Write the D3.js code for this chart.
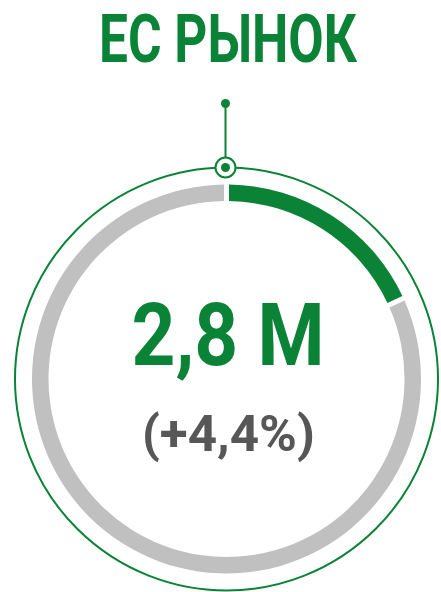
<!DOCTYPE html>
<html>
<head>
<meta charset="utf-8">
<script src="https://cdn.jsdelivr.net/npm/d3@7"></script>
<style>
  html, body { margin: 0; padding: 0; background: #fff; }
  svg { display: block; }
</style>
</head>
<body>
<svg id="chart"></svg>
<script>
// chart data
const title = "ЕС РЫНОК";
const segments = ["share", "rest"];
const shareValues = [0.18, 0.82];
const valueLabel = "2,8 M";
const changeLabel = "(+4,4%)";

const width = 441, height = 592;
const cx = 226.5, cy = 379;
const green = "#0a8336", grey = "#c0c0c0", textGrey = "#575757";

const svg = d3.select("#chart")
    .attr("width", width)
    .attr("height", height);

// squeeze a text element horizontally to a given width (condensed look)
function fitWidth(sel, targetWidth, x) {
    let w = sel.node().getComputedTextLength();
    let k = targetWidth / w;
    sel.attr("transform", `translate(${x},0) scale(${k},1) translate(${-x},0)`);
}

// title
let titleText = svg.append("text")
    .attr("x", 228)
    .attr("y", 62.5)
    .attr("text-anchor", "middle")
    .attr("font-family", "Roboto")
    .attr("font-weight", 700)
    .attr("font-size", 67)
    .attr("fill", green)
    .text(title);
fitWidth(titleText, 258, 228);

const g = svg.append("g")
    .attr("transform", `translate(${cx},${cy})`);

// thin outer circle
g.append("circle")
    .attr("r", 211.5)
    .attr("fill", "none")
    .attr("stroke", green)
    .attr("stroke-width", 2);

// ring segments
const pie = d3.pie().sort(null).padAngle(0.019);
const arc = d3.arc().innerRadius(178).outerRadius(194.5);

g.selectAll("path.seg")
    .data(pie(shareValues))
    .join("path")
    .attr("class", "seg")
    .attr("d", arc)
    .attr("fill", (d, i) => segments[i] === "share" ? green : grey);

// marker pin at the start of the ring
const pinY = -211.5;
g.append("line")
    .attr("x1", -1).attr("x2", -1)
    .attr("y1", pinY - 64).attr("y2", pinY)
    .attr("stroke", green)
    .attr("stroke-width", 2);
g.append("circle")
    .attr("cx", -1).attr("cy", pinY - 64)
    .attr("r", 4.5)
    .attr("fill", green);
g.append("circle")
    .attr("cx", -1).attr("cy", pinY)
    .attr("r", 10)
    .attr("fill", "#fff")
    .attr("stroke", green)
    .attr("stroke-width", 2);
g.append("circle")
    .attr("cx", -1).attr("cy", pinY)
    .attr("r", 4.5)
    .attr("fill", green);

// central value
let valueText = svg.append("text")
    .attr("x", 228)
    .attr("y", 365)
    .attr("text-anchor", "middle")
    .attr("font-family", "Roboto")
    .attr("font-weight", 700)
    .attr("font-size", 87)
    .attr("fill", green)
    .text(valueLabel);
fitWidth(valueText, 193, 228);

let changeText = svg.append("text")
    .attr("x", 228.4)
    .attr("y", 451.5)
    .attr("text-anchor", "middle")
    .attr("font-family", "Roboto")
    .attr("font-weight", 700)
    .attr("font-size", 50)
    .attr("fill", textGrey)
    .text(changeLabel);
fitWidth(changeText, 173, 228.4);
</script>
</body>
</html>
